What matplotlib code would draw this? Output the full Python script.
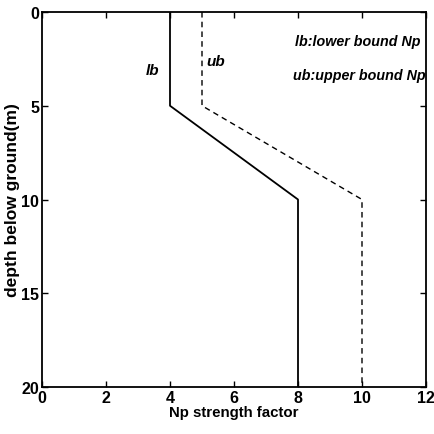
import matplotlib.pyplot as plt

# Np strength factor bounds vs depth
depth = [0, 5, 10, 20]
np_lower = [4, 4, 8, 8]
np_upper = [5, 5, 10, 10]

plt.rcParams['font.family'] = ['Liberation Sans', 'DejaVu Sans']
plt.rcParams['font.weight'] = 'bold'

fig = plt.figure(figsize=(4.34, 4.35), dpi=100)
ax = fig.add_axes([42 / 434, 1 - 388 / 435, 384 / 434, 375 / 435])

ax.plot(np_lower, depth, 'k-', linewidth=1.3)
ax.plot(np_upper, depth, 'k--', linewidth=1.0, dashes=(4, 3))

ax.text(3.25, 3.3, 'lb', fontsize=11, style='italic', fontweight='bold')
ax.text(5.15, 2.8, 'ub', fontsize=11, style='italic', fontweight='bold')
ax.text(7.9, 1.75, 'lb:lower bound Np', fontsize=10.3, style='italic', fontweight='bold')
ax.text(7.85, 3.55, 'ub:upper bound Np', fontsize=10.3, style='italic', fontweight='bold',
        clip_on=True)

ax.set_xlim(0, 12)
ax.set_ylim(20, 0)
ax.set_xticks(range(0, 13, 2))
ax.set_yticks(range(0, 21, 5))
ax.tick_params(direction='in', top=True, right=True, length=4, width=1,
               labelsize=11.5)
ax.tick_params(axis='x', pad=2)
ax.tick_params(axis='y', pad=2)
for lbl in ax.get_xticklabels() + ax.get_yticklabels():
    lbl.set_fontweight('bold')
for s in ax.spines.values():
    s.set_linewidth(1.3)

ax.set_xlabel('Np strength factor', fontsize=10.8, fontweight='bold', labelpad=0)
ax.set_ylabel('depth below ground(m)', fontsize=12.5, fontweight='bold', labelpad=1)

fig.savefig('out.png', dpi=100)
